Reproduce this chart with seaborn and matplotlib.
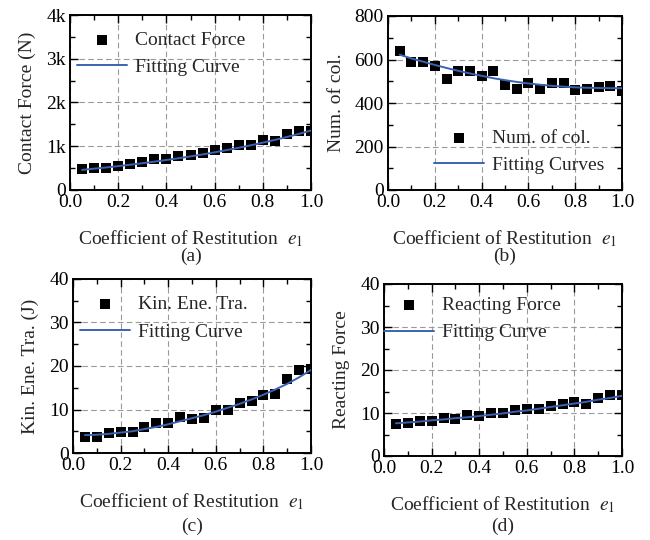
import matplotlib
matplotlib.use("Agg")
import numpy as np
import pandas as pd
import seaborn as sns
import matplotlib.pyplot as plt
from matplotlib.ticker import MultipleLocator, AutoMinorLocator, FuncFormatter

# ---------------- data ----------------
e1 = [0.05, 0.10, 0.15, 0.20, 0.25, 0.30, 0.35, 0.40, 0.45, 0.50,
      0.55, 0.60, 0.65, 0.70, 0.75, 0.80, 0.85, 0.90, 0.95, 1.00]

contact_force = [485, 500, 500, 550, 600, 640, 710, 710, 770, 810,
                 850, 920, 950, 1020, 1020, 1140, 1110, 1270, 1340, 1360]
contact_fit = [460, 487, 515, 546, 578, 612, 648, 686, 726, 768,
               813, 861, 912, 965, 1022, 1082, 1145, 1212, 1283, 1359]

num_col = [638, 588, 588, 568, 509, 549, 545, 526, 546, 485,
           465, 491, 465, 491, 491, 462, 465, 472, 480, 454]
num_col_fit = [622, 605, 590, 575, 561, 548, 536, 525, 514, 505,
               497, 490, 484, 479, 475, 472, 470, 469, 468, 468]

kin_ene = [3.6, 3.6, 4.6, 4.8, 4.9, 6.0, 7.0, 7.0, 8.3, 7.8,
           8.0, 9.8, 9.8, 11.6, 12.0, 13.4, 13.6, 17.0, 19.0, 19.4]
kin_ene_fit = [4.1, 4.2, 4.4, 4.7, 5.0, 5.5, 6.0, 6.6, 7.3, 8.0,
               8.7, 9.5, 10.4, 11.3, 12.3, 13.4, 14.6, 15.9, 17.4, 19.1]

react_force = [7.5, 7.7, 8.1, 8.2, 8.9, 8.7, 9.6, 9.3, 9.9, 9.9,
               10.7, 11.0, 11.0, 11.6, 12.0, 12.6, 12.0, 13.5, 14.2, 14.1]
react_fit = [7.6, 7.8, 8.0, 8.3, 8.5, 8.8, 9.0, 9.3, 9.6, 9.9,
             10.3, 10.6, 11.0, 11.4, 11.8, 12.2, 12.6, 13.1, 13.5, 14.0]

y_labels = ["Contact Force (N)", "Num. of col.", "Kin. Ene. Tra. (J)", "Reacting Force"]
point_labels = ["Contact Force", "Num. of col.", "Kin. Ene. Tra.", "Reacting Force"]
fit_labels = ["Fitting Curve", "Fitting Curves", "Fitting Curve", "Fitting Curve"]
captions = ["(a)", "(b)", "(c)", "(d)"]
x_label = r"Coefficient of Restitution  $e_{\mathrm{1}}$"

# ---------------- style ----------------
sns.set_theme(style="ticks")
plt.rcParams["font.family"] = ["Liberation Serif", "DejaVu Serif"]
plt.rcParams["mathtext.fontset"] = "stix"
FS = 14
plt.rcParams["font.size"] = FS

fig = plt.figure(figsize=(6.5, 5.4), dpi=100)

positions = [
    [70 / 650, 350 / 540, 241 / 650, 175 / 540],
    [388 / 650, 350 / 540, 234 / 650, 174 / 540],
    [73 / 650, 87 / 540, 238 / 650, 174 / 540],
    [384 / 650, 84 / 540, 238 / 650, 172 / 540],
]
caption_y = [1 - 256 / 540, 1 - 256 / 540, 1 - 526 / 540, 1 - 526 / 540]

series = [
    (contact_force, contact_fit, (0, 4000), 1000),
    (num_col, num_col_fit, (0, 800), 200),
    (kin_ene, kin_ene_fit, (0, 40), 10),
    (react_force, react_fit, (0, 40), 10),
]
legend_locs = ["upper left", "lower right", "upper left", "upper left"]
legend_anchor = [(-0.02, 0.975), (0.975, 0.025), (-0.02, 0.97), (-0.05, 0.995)]

blue = "#3a64b0"

for i, (pts, fit, ylim, ystep) in enumerate(series):
    ax = fig.add_axes(positions[i])
    df = pd.DataFrame({"x": e1, "y": pts, "fit": fit})
    sns.scatterplot(data=df, x="x", y="y", marker="s", s=45, color="black",
                    edgecolor="black", linewidth=0, ax=ax, label=point_labels[i], zorder=3)
    sns.lineplot(data=df, x="x", y="fit", color=blue, linewidth=1.4, ax=ax,
                 label=fit_labels[i], zorder=4)
    ax.set_xlim(0, 1.0)
    ax.set_ylim(*ylim)
    ax.xaxis.set_major_locator(MultipleLocator(0.2))
    ax.xaxis.set_minor_locator(AutoMinorLocator(2))
    ax.yaxis.set_major_locator(MultipleLocator(ystep))
    ax.yaxis.set_minor_locator(AutoMinorLocator(2))
    ax.xaxis.set_major_formatter(FuncFormatter(lambda v, p: f"{v:.1f}"))
    if i == 0:
        ax.yaxis.set_major_formatter(FuncFormatter(lambda v, p: "0" if v == 0 else f"{int(round(v / 1000))}k"))
    ax.tick_params(which="both", direction="in", top=True, right=True,
                   labelsize=FS, width=1.0, colors="black")
    ax.tick_params(which="major", length=6, pad=3)
    ax.tick_params(which="minor", length=3.5)
    ax.grid(True, which="major", linestyle=(0, (5, 3)), color="#999999", linewidth=0.8)
    for sp in ax.spines.values():
        sp.set_visible(True)
        sp.set_linewidth(1.4)
        sp.set_color("black")
    ax.set_xlabel(x_label, fontsize=FS, labelpad=12)
    ax.set_ylabel(y_labels[i], fontsize=FS, labelpad=7)
    leg = ax.legend(loc=legend_locs[i], bbox_to_anchor=legend_anchor[i], frameon=False,
                    fontsize=FS, handlelength=2.6, handletextpad=0.4, labelspacing=0.5,
                    borderaxespad=0.2)
    cx = positions[i][0] + positions[i][2] / 2
    fig.text(cx, caption_y[i], captions[i], ha="center", va="center", fontsize=FS)

fig.savefig("out.png", dpi=100)
